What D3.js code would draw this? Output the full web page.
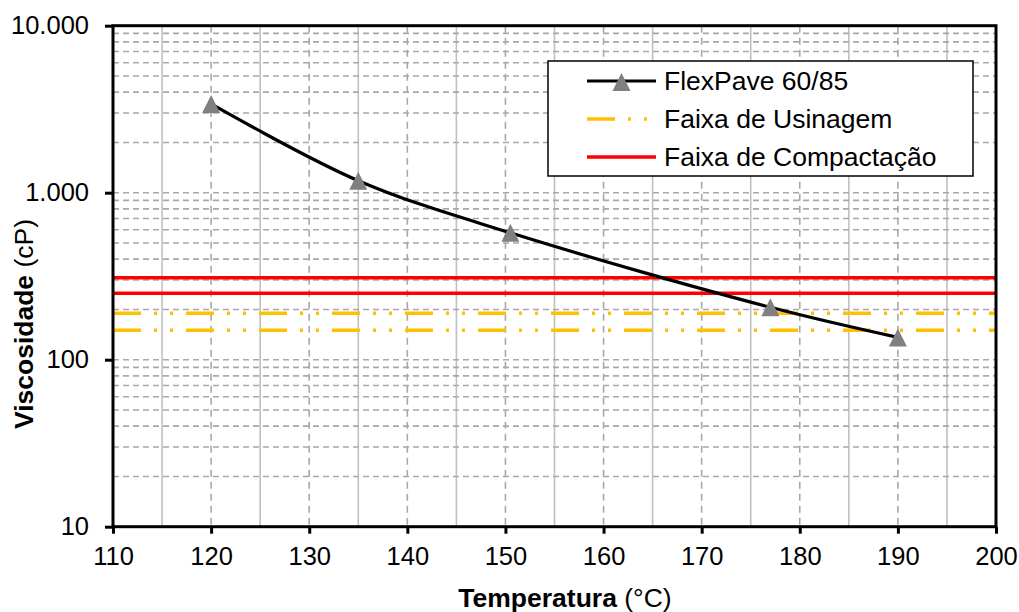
<!DOCTYPE html>
<html>
<head>
<meta charset="utf-8">
<script src="https://cdn.jsdelivr.net/npm/d3@7"></script>
<style>
  body { margin: 0; background: #fff; }
  text { font-family: Arial, "Liberation Sans", sans-serif; fill: #000; }
</style>
</head>
<body>
<svg id="chart" width="1019" height="612"></svg>
<script>
// Viscosity curve of the binder (Brookfield), in cP
const temperatures = [120, 135, 150.5, 177, 190];
const viscosities = [3400, 1180, 575, 206, 136];

// Reference ranges (cP)
const usinagemLimits = [150, 190];
const compactacaoLimits = [250, 310];

const xTickValues = [110, 120, 130, 140, 150, 160, 170, 180, 190, 200];
const yTickValues = [10, 100, 1000, 10000];
const seriesNames = ["FlexPave 60/85", "Faixa de Usinagem", "Faixa de Compactação"];

const plot = { left: 113, right: 996, top: 25.7, bottom: 526.7 };

const svg = d3.select("#chart");

const x = d3.scaleLinear().domain([110, 200]).range([plot.left, plot.right]);
const y = d3.scaleLog().domain([10, 10000]).range([plot.bottom, plot.top]);

const ptBR = d3.formatLocale({ decimal: ",", thousands: ".", grouping: [3], currency: ["R$", ""] });
const fmt = ptBR.format(",");

// Vertical gridlines: dashed at every 10 °C, solid in between
const g = svg.append("g");
d3.range(115, 200, 5).forEach(t => {
  const major = t % 10 === 0;
  g.append("line")
    .attr("x1", x(t)).attr("x2", x(t))
    .attr("y1", plot.top).attr("y2", plot.bottom)
    .attr("stroke", major ? "#a8a8a8" : "#c0c0c0")
    .attr("stroke-width", 1.6)
    .attr("stroke-dasharray", major ? "7,5" : null);
});

// Horizontal gridlines: dashed at every log subdivision
const yGrid = [];
[10, 100, 1000].forEach(d => { for (let k = 1; k <= 9; k++) yGrid.push(d * k); });
yGrid.filter(v => v > 10).forEach(v => {
  g.append("line")
    .attr("x1", plot.left).attr("x2", plot.right)
    .attr("y1", y(v)).attr("y2", y(v))
    .attr("stroke", "#a8a8a8")
    .attr("stroke-width", 1.6)
    .attr("stroke-dasharray", "6,4");
});

// Reference ranges
const usinagemDash = "28,13,3,13,3,13";
usinagemLimits.forEach(v => {
  svg.append("line")
    .attr("x1", plot.left).attr("x2", plot.right)
    .attr("y1", y(v)).attr("y2", y(v))
    .attr("stroke", "#ffc000").attr("stroke-width", 3.5)
    .attr("stroke-dasharray", usinagemDash);
});
compactacaoLimits.forEach(v => {
  svg.append("line")
    .attr("x1", plot.left).attr("x2", plot.right)
    .attr("y1", y(v)).attr("y2", y(v))
    .attr("stroke", "#ff0000").attr("stroke-width", 3.5);
});

// Viscosity curve
const pts = temperatures.map((t, i) => [t, viscosities[i]]);
const line = d3.line()
  .x(d => x(d[0])).y(d => y(d[1]))
  .curve(d3.curveCatmullRom.alpha(0.5));
svg.append("path")
  .attr("d", line(pts))
  .attr("fill", "none")
  .attr("stroke", "#000")
  .attr("stroke-width", 3.2);

// Triangle marker, 18 px wide and tall, centred on its bounding box
const tri = "M0,-9L9,9L-9,9Z";
svg.append("g").selectAll("path")
  .data(pts).join("path")
  .attr("d", tri)
  .attr("transform", d => `translate(${x(d[0])},${y(d[1])})`)
  .attr("fill", "#808080");

// Plot frame
svg.append("rect")
  .attr("x", plot.left).attr("y", plot.top)
  .attr("width", plot.right - plot.left).attr("height", plot.bottom - plot.top)
  .attr("fill", "none").attr("stroke", "#000").attr("stroke-width", 3);

// Axes
const xAxis = d3.axisBottom(x).tickValues(xTickValues).tickSize(7).tickPadding(8);
const gx = svg.append("g").attr("transform", `translate(0,${plot.bottom})`).call(xAxis);
gx.select(".domain").remove();
gx.selectAll(".tick line").attr("stroke", "#000").attr("stroke-width", 3);
gx.selectAll(".tick text").attr("font-size", 25.5).attr("font-family", "Arial, 'Liberation Sans', sans-serif").attr("dy", "0.93em");

const yAxis = d3.axisLeft(y).tickValues(yTickValues).tickFormat(fmt).tickSize(8).tickPadding(16);
const gy = svg.append("g").attr("transform", `translate(${plot.left},0)`).call(yAxis);
gy.select(".domain").remove();
gy.selectAll(".tick line").attr("stroke", "#000").attr("stroke-width", 3);
gy.selectAll(".tick text").attr("font-size", 25.5).attr("font-family", "Arial, 'Liberation Sans', sans-serif");

// Axis titles
const xTitle = svg.append("text")
  .attr("x", 565).attr("y", 607)
  .attr("text-anchor", "middle").attr("font-size", 26.5);
xTitle.append("tspan").attr("font-weight", "bold").text("Temperatura");
xTitle.append("tspan").text(" (°C)");

const yTitle = svg.append("text")
  .attr("transform", "translate(33,324) rotate(-90)")
  .attr("text-anchor", "middle").attr("font-size", 26.5);
yTitle.append("tspan").attr("font-weight", "bold").text("Viscosidade");
yTitle.append("tspan").text(" (cP)");

// Legend
const lg = svg.append("g");
lg.append("rect")
  .attr("x", 548).attr("y", 61).attr("width", 425).attr("height", 115)
  .attr("fill", "#fff").attr("stroke", "#000").attr("stroke-width", 1.5);
const rows = [81, 119, 157];
const sx1 = 587, sx2 = 656;
lg.append("line").attr("x1", sx1).attr("x2", sx2).attr("y1", rows[0]).attr("y2", rows[0])
  .attr("stroke", "#000").attr("stroke-width", 3.2);
lg.append("path").attr("d", tri).attr("transform", `translate(${(sx1 + sx2) / 2},${rows[0] + 1})`).attr("fill", "#808080");
lg.append("line").attr("x1", sx1).attr("x2", sx2).attr("y1", rows[1]).attr("y2", rows[1])
  .attr("stroke", "#ffc000").attr("stroke-width", 3.5).attr("stroke-dasharray", usinagemDash);
lg.append("line").attr("x1", sx1).attr("x2", sx2).attr("y1", rows[2]).attr("y2", rows[2])
  .attr("stroke", "#ff0000").attr("stroke-width", 3.5);
seriesNames.forEach((name, i) => {
  lg.append("text").attr("x", 664).attr("y", rows[i]).attr("dy", "0.35em")
    .attr("font-size", 26.5).text(name);
});
</script>
</body>
</html>
